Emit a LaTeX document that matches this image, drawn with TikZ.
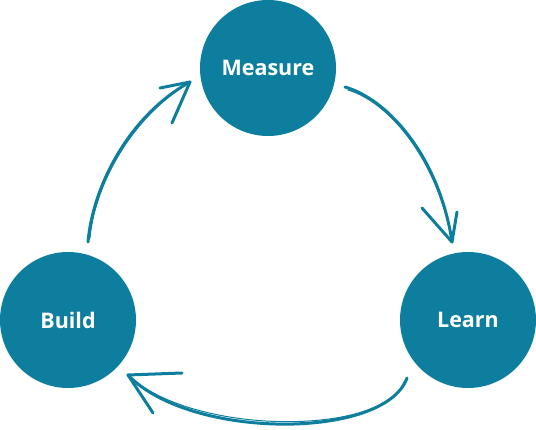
\documentclass[tikz,border=0pt]{standalone}
\usepackage{fontspec}
\setmainfont{Open Sans}
\begin{document}
\begin{tikzpicture}[x=1pt,y=-1pt,
  stage/.style={circle, fill=teal0, minimum size=136pt, inner sep=0pt, text=white, font=\fontsize{21.5}{24}\selectfont\bfseries},
  brush/.style={draw=teal0, line width=3pt, line cap=round, line join=round},
  thin/.style={draw=teal0, line width=1pt, line cap=round}]
\definecolor{teal0}{HTML}{0E7E9E}
\useasboundingbox (0,0) rectangle (536,430);
\node[stage] (measure) at (268,68) {Measure};
\node[stage] (build) at (68,320) {Build};
\node[stage] (learn) at (468,320) {Learn};
% arrow build -> measure
\coordinate (a1s) at (88,242);
\coordinate (a1t) at (190,82);
\coordinate (a1l) at (160,88);
\coordinate (a1r) at (172,123);
\draw[brush] (a1s) .. controls (93,185) and (130,115) .. (a1t);
\draw[thin] (90,238) .. controls (95,184) and (132,117) .. (a1t);
\draw[brush] (a1l) -- (a1t) -- (a1r);
% arrow measure -> learn
\coordinate (a2s) at (345,87);
\coordinate (a2t) at (452,242);
\coordinate (a2l) at (422,208);
\coordinate (a2r) at (457,212);
\draw[brush] (a2s) .. controls (390,100) and (440,160) .. (a2t);
\draw[thin] (348,90) .. controls (391,103) and (438,162) .. (a2t);
\draw[brush] (a2l) -- (a2t) -- (a2r);
% arrow learn -> build
\coordinate (a3s) at (407,378);
\coordinate (a3t) at (128,375);
\coordinate (a3l) at (182,373);
\coordinate (a3r) at (153,413);
\draw[brush] (a3s) .. controls (385,440) and (190,440) .. (a3t);
\draw[thin] (404,382) .. controls (383,436) and (192,436) .. (a3t);
\draw[brush] (a3l) -- (a3t) -- (a3r);
\end{tikzpicture}
\end{document}
